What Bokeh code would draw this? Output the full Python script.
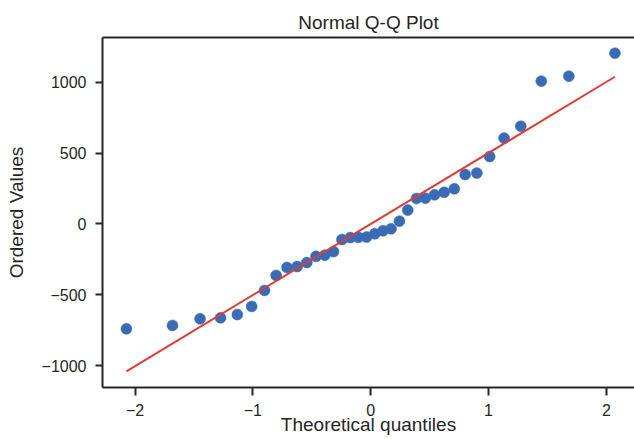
from bokeh.plotting import figure
from bokeh.models import LinearAxis, FixedTicker, Range1d, ColumnDataSource
from bokeh.embed import file_html
from bokeh.resources import INLINE
import numpy as np

# Theoretical normal quantiles (x) and ordered sample values (y)
theoretical_quantiles = [-2.073, -1.682, -1.448, -1.274, -1.132, -1.010, -0.901, -0.802,
                         -0.710, -0.624, -0.542, -0.464, -0.389, -0.315, -0.244, -0.173,
                         -0.104, -0.035, 0.035, 0.104, 0.173, 0.244, 0.315, 0.389,
                         0.464, 0.542, 0.624, 0.710, 0.802, 0.901, 1.010, 1.132,
                         1.274, 1.448, 1.682, 2.073]
ordered_values = [-740, -716, -669, -662, -639, -582, -469, -363,
                  -307, -300, -272, -228, -220, -195, -110, -96,
                  -94, -92, -69, -48, -34, 20, 98, 180,
                  182, 206, 224, 248, 349, 359, 476, 606,
                  690, 1008, 1043, 1205]

x_ticks = [-2, -1, 0, 1, 2]
x_tick_labels = ["\u22122", "\u22121", "0", "1", "2"]
y_ticks = [-1000, -500, 0, 500, 1000]
y_tick_labels = ["\u22121000", "\u2212500", "0", "500", "1000"]

# least-squares fit line (as in a probability plot)
slope, intercept = np.polyfit(theoretical_quantiles, ordered_values, 1)
line_x = [min(theoretical_quantiles), max(theoretical_quantiles)]
line_y = [slope * xx + intercept for xx in line_x]

TEXT = "#262626"
FONT = "Liberation Sans"

p = figure(width=634, height=439, output_backend="svg", toolbar_location=None,
           x_range=Range1d(-2.276, 2.239), y_range=Range1d(-1154, 1316),
           min_border_left=102, min_border_right=0, min_border_top=37, min_border_bottom=52,
           x_axis_label="Theoretical quantiles", y_axis_label="Ordered Values",
           title="Normal Q-Q Plot")

p.outline_line_color = None
p.xgrid.visible = False
p.ygrid.visible = False
p.background_fill_color = "white"
p.border_fill_color = "white"

p.title.text_font = FONT
p.title.text_font_size = "19px"
p.title.text_font_style = "normal"
p.title.text_color = TEXT
p.title.align = "center"
p.title.standoff = 9

for ax, ticks, labels in ((p.xaxis[0], x_ticks, x_tick_labels), (p.yaxis[0], y_ticks, y_tick_labels)):
    ax.ticker = FixedTicker(ticks=ticks)
    ax.major_label_overrides = {t: l for t, l in zip(ticks, labels)}
    ax.axis_line_color = TEXT
    ax.axis_line_width = 2
    ax.major_tick_line_color = TEXT
    ax.major_tick_line_width = 2
    ax.major_tick_in = 0
    ax.minor_tick_line_color = None
    ax.major_label_text_font = FONT
    ax.major_label_text_font_size = "16px"
    ax.major_label_text_color = TEXT
    ax.axis_label_text_font = FONT
    ax.axis_label_text_font_size = "19px"
    ax.axis_label_text_font_style = "normal"
    ax.axis_label_text_color = TEXT

p.xaxis[0].major_tick_out = 8
p.xaxis[0].major_label_standoff = 8
p.xaxis[0].axis_label_standoff = -5
p.yaxis[0].major_tick_out = 7
p.yaxis[0].major_label_standoff = 9
p.yaxis[0].axis_label_standoff = 12

top_axis = LinearAxis(ticker=FixedTicker(ticks=[]), major_tick_out=0, major_tick_in=0,
                      minor_tick_out=0, minor_tick_in=0, major_label_standoff=0,
                      major_label_text_font_size="0px", axis_line_width=2,
                      axis_line_color=TEXT)
p.add_layout(top_axis, "above")

src = ColumnDataSource(dict(x=theoretical_quantiles, y=ordered_values))
p.scatter("x", "y", source=src, size=11, fill_color="#3a6cb5", line_color="#3a6cb5",
          line_alpha=0.5)
p.line(line_x, line_y, line_color="#dc3d36", line_width=2)

open("out.html", "w").write(file_html(p, INLINE))
